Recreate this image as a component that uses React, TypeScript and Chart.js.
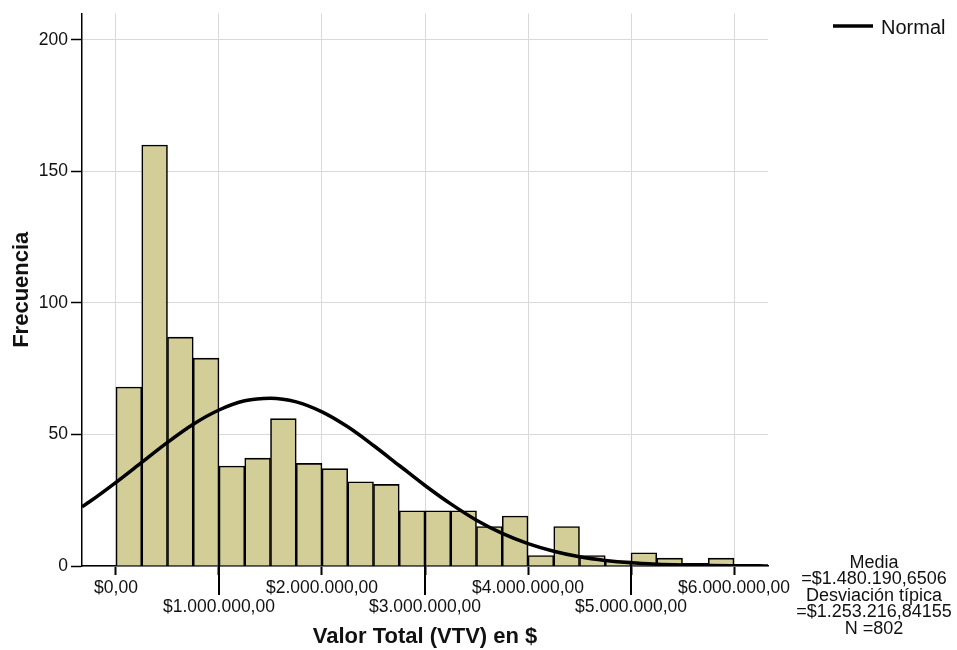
import React, { useEffect, useRef } from 'react';
import { Chart, registerables } from 'chart.js';

Chart.register(...registerables);

// Histogram bins (centre of each 250.000 bin) and their frequencies
const binCenters = [
  125000, 375000, 625000, 875000, 1125000, 1375000, 1625000, 1875000,
  2125000, 2375000, 2625000, 2875000, 3125000, 3375000, 3625000, 3875000,
  4125000, 4375000, 4625000, 4875000, 5125000, 5375000, 5625000, 5875000,
];
const frequencies = [
  68, 160, 87, 79, 38, 41, 56, 39,
  37, 32, 31, 21, 21, 21, 15, 19,
  4, 15, 4, 2, 5, 3, 1, 3,
];

// Normal curve
const curveX = [
  -330000, -250000, 0, 250000, 500000, 750000, 1000000, 1250000, 1500000,
  1750000, 2000000, 2250000, 2500000, 2750000, 3000000, 3250000, 3500000,
  3750000, 4000000, 4250000, 4500000, 4750000, 5000000, 5250000, 5500000,
  5750000, 6000000, 6250000, 6330000,
];
const curveY = [
  22.5, 24.6, 31.8, 39.4, 47.0, 53.9, 59.3, 62.8, 63.8,
  62.4, 58.6, 52.9, 45.8, 38.2, 30.6, 23.6, 17.4,
  12.4, 8.5, 5.6, 3.5, 2.1, 1.2, 0.7, 0.4,
  0.2, 0.1, 0.05, 0.04,
];

const xTickValues = [0, 1000000, 2000000, 3000000, 4000000, 5000000, 6000000];
const xTickLabels = [
  '$0,00', '$1.000.000,00', '$2.000.000,00', '$3.000.000,00',
  '$4.000.000,00', '$5.000.000,00', '$6.000.000,00',
];
const yTickStep = 50;

const statsLines = [
  'Media',
  '=$1.480.190,6506',
  'Desviación típica',
  '=$1.253.216,84155',
  'N =802',
];
const legendLabel = 'Normal';

const FONT = "'Liberation Sans', Arial, Helvetica, sans-serif";

const extrasPlugin = {
  id: 'extras',
  afterDraw(chart: any) {
    const ctx = chart.ctx;
    const area = chart.chartArea;
    const xs = chart.scales.x;
    ctx.save();
    // long tick marks for the lower label row
    ctx.strokeStyle = '#000';
    ctx.lineWidth = 2;
    xTickValues.forEach((v, i) => {
      if (i % 2 === 1) {
        const px = Math.round(xs.getPixelForValue(v));
        ctx.beginPath();
        ctx.moveTo(px, area.bottom);
        ctx.lineTo(px, area.bottom + 29);
        ctx.stroke();
      }
    });
    // legend
    ctx.lineWidth = 3.5;
    ctx.beginPath();
    ctx.moveTo(area.right + 65, 26);
    ctx.lineTo(area.right + 105, 26);
    ctx.stroke();
    ctx.fillStyle = '#111';
    ctx.font = `20px ${FONT}`;
    ctx.textAlign = 'left';
    ctx.textBaseline = 'middle';
    ctx.fillText(legendLabel, area.right + 113, 28);
    // statistics
    ctx.font = `18px ${FONT}`;
    ctx.textAlign = 'center';
    statsLines.forEach((t, i) => {
      ctx.fillText(t, area.right + 106, 563 + i * 16.4);
    });
    ctx.restore();
  },
};

export default function App() {
  const ref = useRef<HTMLCanvasElement>(null);

  useEffect(() => {
    if (!ref.current) return;
    Chart.defaults.font.family = FONT;
    const chart = new Chart(ref.current, {
      type: 'bar',
      data: {
        datasets: [
          {
            type: 'line',
            label: legendLabel,
            data: curveX.map((x, i) => ({ x, y: curveY[i] })),
            borderColor: '#000',
            borderWidth: 3.5,
            pointRadius: 0,
            fill: false,
            tension: 0.4,
            cubicInterpolationMode: 'monotone',
            order: 1,
          } as any,
          {
            type: 'bar',
            label: 'Frecuencia',
            data: binCenters.map((x, i) => ({ x, y: frequencies[i] })),
            backgroundColor: '#d3ce98',
            borderColor: '#000',
            borderWidth: 1.6,
            barPercentage: 1,
            categoryPercentage: 1,
            order: 2,
          } as any,
        ],
      },
      options: {
        responsive: false,
        animation: false,
        devicePixelRatio: 1,
        layout: { padding: { top: 12, right: 189, left: 0, bottom: 0 } },
        plugins: {
          legend: { display: false },
          tooltip: { enabled: false },
        },
        scales: {
          x: {
            type: 'linear',
            min: -330000,
            max: 6330000,
            offset: false,
            afterBuildTicks: (s: any) => {
              s.ticks = xTickValues.map((v) => ({ value: v }));
            },
            afterFit: (s: any) => {
              s.height = 84;
            },
            ticks: {
              autoSkip: false,
              maxRotation: 0,
              minRotation: 0,
              padding: 3,
              color: '#111',
              font: { size: 17.5, lineHeight: 1.12 },
              callback: (v: any) => {
                const i = xTickValues.indexOf(Number(v));
                if (i < 0) return '';
                return i % 2 === 0 ? [xTickLabels[i], ''] : ['', xTickLabels[i]];
              },
            },
            grid: {
              offset: false,
              color: '#d9d9d9',
              lineWidth: 1,
              tickLength: 9,
              tickColor: '#000',
              tickWidth: 2,
            },
            border: { display: true, color: '#000', width: 1.5 },
            title: {
              display: true,
              text: 'Valor Total (VTV) en $',
              color: '#111',
              font: { size: 22, weight: 'bold' },
              padding: { top: 0, bottom: 0 },
            },
          } as any,
          y: {
            min: 0,
            max: 210,
            afterFit: (s: any) => {
              s.width = 82;
            },
            ticks: {
              stepSize: yTickStep,
              includeBounds: false,
              padding: 3,
              color: '#111',
              font: { size: 17.5 },
            },
            grid: {
              color: '#d9d9d9',
              lineWidth: 1,
              tickLength: 11,
              tickColor: '#000',
              tickWidth: 1.5,
            },
            border: { display: true, color: '#000', width: 1.5 },
            title: {
              display: true,
              text: 'Frecuencia',
              color: '#111',
              font: { size: 22, weight: 'bold' },
              padding: { top: 9, bottom: 0 },
            },
          } as any,
        },
      },
      plugins: [extrasPlugin],
    });
    return () => chart.destroy();
  }, []);

  return (
    <div style={{ position: 'absolute', left: 0, top: 0, width: 957, height: 650, background: '#fff' }}>
      <canvas ref={ref} width={957} height={650} style={{ display: 'block', width: 957, height: 650 }} />
    </div>
  );
}
